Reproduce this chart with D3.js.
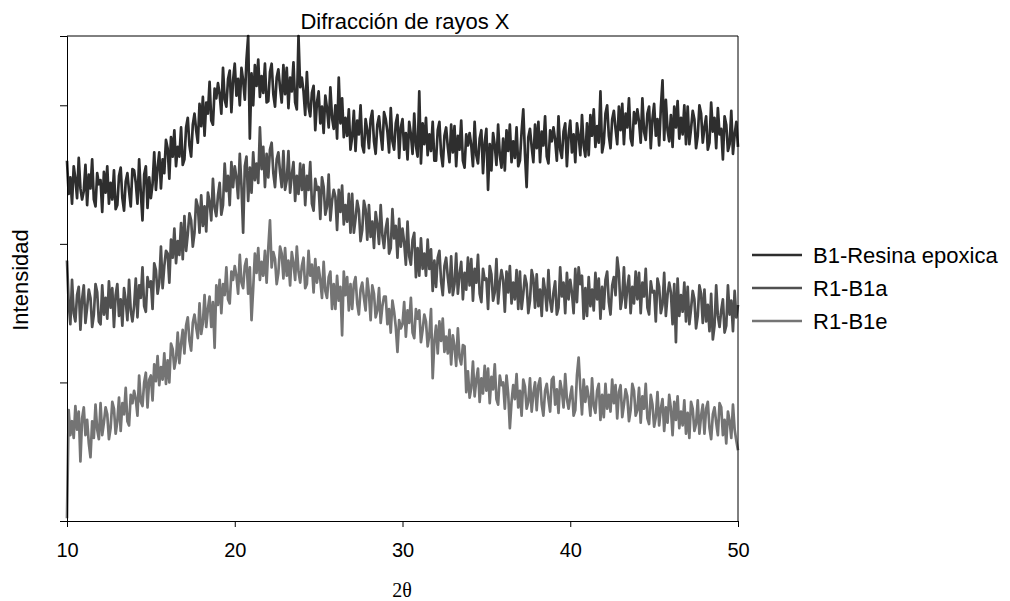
<!DOCTYPE html>
<html>
<head>
<meta charset="utf-8">
<script src="https://cdn.jsdelivr.net/npm/d3@7"></script>
<style>
body { margin: 0; background: #fff; }
svg text { font-family: Arial, "Liberation Sans", sans-serif; fill: #000; }
</style>
</head>
<body>
<div id="chart"></div>
<script>
// 2theta grid of the scan (10 to 50, step 0.1)
const twoTheta = d3.range(401).map(i => 10 + i * 0.1);

const seriesNames = ["B1-Resina epoxica", "R1-B1a", "R1-B1e"];
const seriesColors = ["#2e2e2e", "#505050", "#747474"];

const xTicks = [10, 20, 30, 40, 50];
const yTicks = [0, 10, 20, 30];

// intensities (arbitrary units), one row per degree
const b1Resina = [
  26.0, 23.6, 24.8, 22.9, 25.6, 24.7, 23.3, 26.2, 24.0, 23.2,
  23.8, 25.7, 22.8, 25.0, 24.0, 26.1, 23.2, 22.7, 25.1, 24.3,
  24.6, 22.3, 25.2, 23.7, 25.6, 22.9, 24.4, 23.2, 25.3, 22.5,
  22.8, 24.9, 25.5, 23.3, 22.4, 24.5, 25.1, 23.8, 22.7, 25.4,
  25.3, 24.4, 22.9, 26.1, 23.7, 21.7, 25.0, 25.6, 22.6, 24.8,
  23.3, 24.3, 26.6, 23.9, 25.5, 26.6, 24.0, 26.1, 25.1, 27.5,
  26.9, 24.7, 27.7, 26.3, 28.2, 25.6, 27.0, 26.3, 28.4, 25.7,
  26.1, 28.4, 29.1, 27.1, 26.3, 28.6, 29.4, 28.2, 27.3, 30.1,
  28.5, 30.6, 27.8, 30.2, 29.4, 31.7, 28.9, 28.6, 31.2, 30.5,
  31.6, 30.8, 29.4, 32.7, 30.4, 29.9, 31.9, 32.5, 29.5, 31.8,
  33.0, 30.7, 31.9, 30.0, 32.7, 31.8, 30.4, 33.3, 35.0, 27.6,
  32.3, 30.0, 32.9, 31.4, 33.3, 30.6, 32.1, 30.9, 33.0, 30.2,
  30.3, 32.4, 33.0, 30.8, 29.9, 32.0, 32.6, 31.3, 30.2, 32.9,
  30.8, 32.7, 29.8, 32.0, 31.0, 33.1, 30.2, 29.7, 35.0, 31.3,
  32.0, 31.0, 29.3, 32.4, 29.9, 29.2, 30.9, 31.4, 28.2, 30.2,
  31.0, 28.7, 29.9, 28.0, 30.7, 29.8, 28.4, 31.3, 29.1, 28.3,
  30.0, 27.6, 32.0, 28.7, 30.5, 27.7, 29.1, 27.8, 29.7, 26.8,
  27.7, 29.6, 26.7, 28.9, 27.9, 30.0, 27.1, 26.6, 29.0, 28.2,
  26.9, 29.0, 29.6, 27.4, 26.5, 28.6, 29.2, 27.9, 26.8, 29.5,
  29.0, 28.1, 26.6, 29.8, 27.4, 26.8, 28.7, 29.3, 26.2, 28.4,
  29.0, 26.8, 28.0, 26.1, 28.8, 27.9, 26.5, 29.4, 27.1, 26.3,
  31.0, 25.8, 28.7, 27.2, 29.1, 26.4, 27.9, 26.7, 28.8, 26.0,
  26.0, 28.2, 28.8, 26.5, 25.6, 27.8, 28.4, 27.0, 25.9, 28.6,
  26.6, 28.5, 25.6, 27.8, 26.8, 28.9, 26.0, 25.5, 27.9, 27.1,
  28.0, 27.1, 25.6, 28.8, 26.4, 25.8, 27.6, 28.2, 25.1, 27.3,
  28.3, 23.9, 27.2, 25.3, 28.0, 27.1, 25.7, 28.6, 26.4, 25.5,
  27.6, 25.3, 28.2, 26.7, 28.6, 25.9, 27.4, 26.2, 28.4, 25.6,
  26.0, 28.1, 29.7, 26.5, 24.1, 27.7, 28.3, 27.0, 25.9, 28.6,
  26.9, 28.8, 25.9, 28.1, 27.1, 29.2, 26.3, 25.8, 28.2, 27.4,
  28.4, 27.5, 26.0, 29.2, 26.8, 26.2, 28.1, 28.7, 25.6, 27.8,
  28.9, 26.6, 27.9, 25.9, 28.7, 27.8, 26.4, 29.3, 27.1, 26.3,
  28.7, 26.4, 29.3, 27.8, 29.7, 27.0, 28.5, 27.3, 31.0, 26.6,
  27.3, 29.4, 30.0, 27.8, 26.9, 29.0, 29.6, 28.3, 27.2, 29.9,
  28.2, 30.1, 27.2, 29.4, 28.4, 30.5, 27.6, 27.1, 29.5, 28.7,
  29.7, 28.8, 27.3, 30.5, 28.1, 27.5, 29.4, 29.9, 26.9, 29.0,
  30.1, 27.8, 29.0, 27.1, 29.8, 31.8, 27.5, 30.4, 28.2, 27.4,
  29.3, 27.0, 29.9, 28.4, 30.3, 27.6, 29.1, 27.9, 30.0, 27.2,
  29.9, 27.2, 28.3, 29.6, 29.0, 26.9, 27.8, 30.0, 29.4, 27.3,
  28.4, 29.2, 26.8, 27.3, 30.2, 28.1, 29.1, 26.9, 29.8, 27.9,
  28.3, 26.1, 29.2, 28.6, 26.7, 27.2, 29.6, 26.5, 27.9, 28.8,
  27.0
];

const r1B1a = [
  18.8, 15.7, 14.2, 17.4, 15.0, 14.4, 16.3, 16.9, 13.8, 16.0,
  17.0, 14.3, 15.4, 16.7, 16.1, 14.0, 14.9, 17.1, 16.5, 14.4,
  14.2, 17.0, 14.9, 16.1, 14.6, 17.3, 15.4, 16.8, 14.0, 16.3,
  17.1, 14.8, 16.0, 14.1, 16.8, 15.9, 14.5, 17.4, 15.2, 14.4,
  15.5, 17.5, 14.7, 17.0, 16.1, 18.3, 15.5, 15.1, 17.6, 16.9,
  17.3, 15.3, 18.6, 18.1, 16.4, 17.2, 19.8, 16.8, 18.4, 19.5,
  19.3, 17.2, 20.3, 19.0, 21.1, 18.6, 20.2, 19.2, 21.5, 18.9,
  22.0, 19.5, 20.7, 22.2, 21.7, 19.8, 20.8, 23.2, 22.7, 20.8,
  23.5, 21.3, 22.7, 20.9, 23.7, 23.0, 21.7, 24.7, 22.6, 22.0,
  23.5, 24.4, 22.1, 22.8, 25.8, 23.8, 24.9, 22.8, 25.9, 24.1,
  25.6, 24.8, 23.3, 26.5, 24.2, 20.8, 25.6, 26.3, 23.1, 25.5,
  23.7, 26.6, 24.6, 25.8, 24.4, 28.4, 25.4, 27.0, 24.1, 26.5,
  24.8, 26.8, 27.3, 25.1, 24.1, 26.1, 26.6, 25.2, 24.1, 26.7,
  23.9, 24.6, 26.7, 23.7, 25.0, 25.9, 23.1, 24.9, 23.6, 25.8,
  23.9, 25.7, 22.8, 24.9, 23.9, 25.9, 22.9, 22.4, 24.7, 23.9,
  24.1, 21.8, 24.8, 24.1, 22.1, 22.7, 25.0, 21.7, 23.1, 23.9,
  23.4, 21.0, 23.9, 22.3, 24.2, 21.4, 22.8, 21.6, 23.6, 20.8,
  23.6, 20.8, 21.8, 23.1, 22.4, 20.2, 21.0, 23.1, 22.5, 20.3,
  22.8, 20.5, 21.6, 19.7, 22.3, 21.4, 20.0, 22.8, 20.6, 19.7,
  21.1, 21.8, 19.3, 19.7, 22.5, 20.4, 21.3, 19.0, 21.8, 19.8,
  21.1, 20.1, 18.5, 21.6, 19.1, 18.5, 20.3, 20.8, 17.6, 19.7,
  17.7, 20.4, 18.2, 19.3, 17.7, 20.3, 18.2, 19.6, 16.6, 18.8,
  16.9, 19.0, 19.5, 17.3, 16.3, 18.4, 19.0, 17.6, 16.5, 19.1,
  16.3, 17.1, 19.3, 16.4, 17.8, 18.7, 16.0, 17.9, 16.7, 19.0,
  17.0, 18.9, 15.9, 18.2, 17.2, 19.2, 16.4, 15.8, 18.2, 17.4,
  17.5, 15.3, 18.4, 17.8, 15.9, 16.5, 18.9, 15.7, 17.2, 18.1,
  17.4, 15.1, 18.0, 16.5, 18.4, 15.7, 17.2, 16.0, 18.1, 15.3,
  18.0, 15.3, 16.4, 17.7, 17.1, 15.0, 15.9, 18.1, 17.5, 15.4,
  17.8, 15.5, 16.7, 14.8, 17.5, 16.6, 15.2, 18.1, 15.9, 15.1,
  16.5, 17.3, 14.9, 15.4, 18.3, 16.2, 17.2, 15.0, 17.9, 16.0,
  17.4, 16.5, 15.0, 18.2, 15.8, 18.3, 17.1, 17.7, 14.6, 16.8,
  14.8, 17.6, 15.5, 16.7, 15.2, 17.9, 16.0, 17.5, 14.6, 16.9,
  15.3, 17.4, 18.0, 15.8, 14.9, 17.0, 17.6, 16.3, 19.0, 17.9,
  15.3, 16.1, 18.3, 15.4, 16.8, 17.7, 15.0, 16.9, 15.7, 18.0,
  16.0, 17.9, 15.0, 17.2, 16.2, 18.2, 15.4, 14.9, 17.3, 16.5,
  16.6, 14.4, 17.5, 16.9, 15.0, 15.6, 17.9, 14.8, 16.3, 17.2,
  16.5, 14.2, 17.1, 12.9, 17.5, 14.8, 16.3, 15.1, 17.2, 14.4,
  16.9, 14.2, 15.3, 16.6, 16.0, 13.9, 14.8, 17.0, 16.4, 14.3,
  16.7, 14.4, 15.6, 13.7, 16.4, 13.1, 14.1, 17.0, 14.8, 14.0,
  15.2, 16.0, 13.6, 14.1, 17.0, 14.9, 15.9, 13.7, 16.6, 14.7,
  15.6
];

const r1B1e = [
  0.2, 8.0, 6.2, 7.2, 6.0, 8.3, 6.6, 7.9, 4.3, 7.4,
  8.2, 6.2, 7.3, 5.6, 4.6, 7.2, 6.0, 8.4, 6.6, 5.9,
  8.5, 6.2, 7.1, 8.2, 7.7, 5.9, 6.7, 8.6, 8.1, 6.3,
  7.2, 8.9, 6.5, 8.5, 7.7, 9.6, 7.2, 6.9, 9.1, 8.5,
  9.4, 8.8, 7.6, 10.5, 8.6, 8.3, 10.0, 10.7, 8.2, 10.2,
  10.5, 8.7, 11.3, 10.1, 11.9, 9.8, 11.1, 10.2, 12.1, 9.9,
  11.6, 10.0, 12.8, 12.4, 11.0, 11.7, 13.6, 11.4, 12.8, 13.8,
  12.1, 14.1, 14.7, 13.0, 12.3, 14.3, 14.9, 14.0, 13.2, 15.7,
  13.5, 14.3, 16.3, 14.0, 15.3, 16.2, 14.0, 15.8, 12.5, 17.0,
  15.6, 17.4, 15.0, 17.1, 16.3, 18.3, 16.0, 15.7, 18.0, 17.4,
  18.4, 17.7, 16.4, 19.2, 17.2, 16.8, 18.4, 18.9, 16.4, 18.3,
  14.5, 16.8, 19.3, 17.9, 19.7, 17.4, 18.7, 17.7, 19.5, 17.2,
  19.7, 21.7, 18.3, 19.4, 18.9, 17.1, 17.9, 19.8, 19.3, 17.5,
  19.7, 17.7, 18.8, 17.0, 19.4, 18.6, 17.4, 19.8, 18.0, 17.2,
  18.4, 19.0, 16.8, 17.1, 19.5, 17.7, 18.5, 16.5, 18.9, 17.2,
  18.3, 17.4, 16.1, 18.7, 16.6, 16.1, 17.6, 18.0, 15.3, 17.1,
  15.3, 17.7, 15.9, 16.9, 13.4, 18.0, 16.3, 17.6, 15.2, 17.1,
  15.3, 17.1, 17.6, 15.7, 14.9, 16.7, 17.2, 16.1, 15.2, 17.5,
  16.4, 14.5, 17.0, 16.4, 14.7, 15.2, 16.8, 14.3, 15.5, 16.2,
  16.2, 14.2, 15.3, 13.6, 15.9, 15.1, 14.0, 12.2, 14.5, 13.9,
  14.2, 15.8, 13.3, 15.2, 14.3, 16.1, 13.6, 13.2, 15.3, 14.6,
  15.2, 12.9, 13.8, 14.9, 14.4, 12.6, 13.4, 15.3, 10.3, 13.0,
  14.1, 12.1, 14.4, 13.0, 14.6, 12.2, 13.3, 12.1, 13.8, 11.3,
  13.4, 12.6, 11.2, 13.9, 11.8, 11.3, 12.7, 12.6, 9.3, 10.8,
  8.9, 9.6, 11.5, 9.0, 10.2, 11.0, 8.6, 10.3, 9.2, 11.2,
  9.4, 11.0, 8.5, 10.4, 9.5, 11.3, 8.8, 8.4, 10.5, 9.8,
  10.0, 8.1, 10.5, 9.2, 6.7, 8.6, 9.8, 8.8, 10.6, 8.2,
  9.4, 7.6, 10.2, 9.7, 8.1, 8.6, 10.3, 7.9, 9.2, 10.0,
  8.0, 9.8, 10.3, 8.4, 7.6, 9.4, 9.9, 8.8, 7.9, 10.2,
  10.4, 8.4, 9.5, 7.8, 10.1, 9.4, 8.2, 10.6, 8.8, 8.1,
  9.0, 9.7, 7.6, 8.0, 10.5, 11.8, 9.6, 7.7, 10.2, 8.6,
  9.7, 8.9, 7.6, 10.3, 8.3, 7.8, 9.4, 9.9, 7.3, 9.1,
  7.5, 9.9, 8.1, 9.1, 7.9, 10.2, 8.5, 9.8, 7.4, 9.3,
  9.8, 7.5, 8.4, 9.5, 9.0, 7.2, 8.0, 9.9, 9.4, 7.6,
  8.0, 9.6, 7.1, 9.0, 8.1, 9.9, 7.4, 7.0, 9.1, 8.4,
  6.8, 7.5, 9.3, 6.9, 8.1, 8.8, 6.5, 8.2, 7.1, 9.1,
  8.1, 6.2, 8.6, 7.3, 9.0, 6.7, 7.9, 6.9, 8.7, 6.3,
  7.8, 6.0, 8.6, 8.1, 6.5, 7.0, 8.7, 6.3, 7.6, 8.4,
  6.3, 8.1, 8.6, 6.7, 5.9, 7.7, 8.2, 7.1, 6.2, 8.5,
  8.2, 6.2, 7.3, 5.6, 7.9, 7.2, 6.0, 8.4, 6.6, 5.8,
  5.1
];

const allSeries = [b1Resina, r1B1a, r1B1e];

const width = 1010, height = 601;
const plotLeft = 67, plotRight = 738, plotTop = 36, plotBottom = 521;

let svg = d3.select("#chart")
    .append("svg")
    .attr("width", width)
    .attr("height", height)
    .style("background-color", "#fff");

let x = d3.scaleLinear().domain([10, 50]).range([plotLeft, plotRight]);
let y = d3.scaleLinear().domain([0, 35]).range([plotBottom, plotTop]);

//data lines
let line = d3.line()
    .x((d, i) => x(twoTheta[i]))
    .y(d => y(d));

svg.selectAll(".serie").data(allSeries).enter().append("path")
    .attr("class", "serie")
    .attr("d", line)
    .attr("fill", "none")
    .attr("stroke", (d, i) => seriesColors[i])
    .attr("stroke-width", 2.7)
    .attr("stroke-linejoin", "round");

//frame on top and right
svg.append("path")
    .attr("d", "M" + plotLeft + "," + plotTop + "H" + plotRight + "V" + plotBottom)
    .attr("fill", "none")
    .attr("stroke", "#000")
    .attr("stroke-width", 1);

//x axis
let xAxis = svg.append("g")
    .attr("transform", "translate(0," + plotBottom + ")")
    .call(d3.axisBottom(x).tickValues(xTicks).tickSizeOuter(0).tickSize(6).tickPadding(16));
xAxis.selectAll("text").style("font-size", "20px");

//y axis, no labels
let yAxis = svg.append("g")
    .attr("transform", "translate(" + plotLeft + ",0)")
    .call(d3.axisLeft(y).tickValues(yTicks).tickSizeOuter(0).tickSize(7).tickFormat(""));

svg.selectAll(".domain, .tick line").attr("stroke", "#000");

//titles
svg.append("text")
    .text("Difracción de rayos X")
    .attr("x", 405)
    .attr("y", 29)
    .attr("text-anchor", "middle")
    .style("font-size", "22px");

svg.append("text")
    .text("Intensidad")
    .attr("transform", "translate(28,280) rotate(-90)")
    .attr("text-anchor", "middle")
    .style("font-size", "22px");

svg.append("text")
    .text("2θ")
    .attr("x", 402)
    .attr("y", 597)
    .attr("text-anchor", "middle")
    .style("font-family", "'Liberation Serif', 'Times New Roman', serif")
    .style("font-size", "20px");

//legend
let legend = svg.selectAll(".legend").data(seriesNames).enter().append("g")
    .attr("class", "legend")
    .attr("transform", (d, i) => "translate(752," + (255 + i * 33) + ")");

legend.append("line")
    .attr("x1", 0)
    .attr("x2", 50)
    .attr("y1", 0)
    .attr("y2", 0)
    .attr("stroke", (d, i) => seriesColors[i])
    .attr("stroke-width", 2.5);

legend.append("text")
    .text(d => d)
    .attr("x", 61)
    .attr("y", 0)
    .attr("dy", "0.36em")
    .style("font-size", "22px");
</script>
</body>
</html>
